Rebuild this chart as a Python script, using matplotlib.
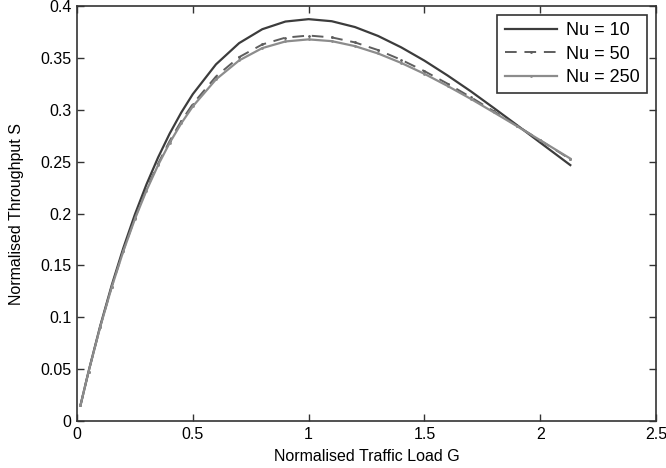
import matplotlib
matplotlib.use('Agg')
from matplotlib import pyplot as plt

plt.rcParams['font.family'] = ['Liberation Sans', 'DejaVu Sans']

# values
G = [0.015, 0.05, 0.1, 0.15, 0.2, 0.25, 0.3, 0.35, 0.4, 0.45, 0.5,
     0.6, 0.7, 0.8, 0.9, 1.0, 1.1, 1.2, 1.3, 1.4, 1.5, 1.6, 1.7,
     1.8, 1.9, 2.0, 2.13]
S_nu10 = [0.015, 0.0478, 0.0914, 0.1309, 0.1667, 0.1991, 0.2281, 0.2540,
          0.2770, 0.2973, 0.3151, 0.3438, 0.3643, 0.3777, 0.3851, 0.3874,
          0.3854, 0.3798, 0.3712, 0.3602, 0.3474, 0.3331, 0.3179, 0.3017,
          0.2852, 0.2684, 0.2467]
S_nu50 = [0.015, 0.0476, 0.0907, 0.1295, 0.1643, 0.1956, 0.2234, 0.2481,
          0.2699, 0.2890, 0.3056, 0.3321, 0.3508, 0.3630, 0.3696, 0.3716,
          0.3698, 0.3650, 0.3576, 0.3482, 0.3373, 0.3252, 0.3122, 0.2986,
          0.2847, 0.2706, 0.2524]
S_nu250 = [0.015, 0.0476, 0.0905, 0.1291, 0.1637, 0.1947, 0.2222, 0.2466,
           0.2681, 0.2869, 0.3033, 0.3293, 0.3476, 0.3595, 0.3659, 0.3679,
           0.3662, 0.3614, 0.3543, 0.3452, 0.3347, 0.3230, 0.3106, 0.2975,
           0.2842, 0.2707, 0.2530]

fig = plt.figure(figsize=(6.66, 4.68), dpi=100)
ax = fig.add_axes([0.1156, 0.1004, 0.8694, 0.8866])

ax.plot(G, S_nu10, color='#3c3c3c', lw=1.6, label='Nu = 10')
ax.plot(G, S_nu50, color='#5e5e5e', lw=1.4, ls=(0, (6, 4)), marker='.',
        markersize=2, label='Nu = 50')
ax.plot(G, S_nu250, color='#8c8c8c', lw=1.6, marker='.', markersize=2,
        label='Nu = 250')

ax.set_xlim(0, 2.5)
ax.set_ylim(0, 0.4)
ax.set_xticks([0, 0.5, 1, 1.5, 2, 2.5])
ax.set_xticklabels(['0', '0.5', '1', '1.5', '2', '2.5'])
ax.set_yticks([0, 0.05, 0.1, 0.15, 0.2, 0.25, 0.3, 0.35, 0.4])
ax.set_yticklabels(['0', '0.05', '0.1', '0.15', '0.2', '0.25', '0.3', '0.35', '0.4'])
ax.tick_params(direction='in', top=True, right=True, labelsize=11.5,
               length=5, width=1, color='#333333', pad=4)
for sp in ax.spines.values():
    sp.set_color('#333333')
    sp.set_linewidth(1.2)

ax.set_xlabel('Normalised Traffic Load G', size=11.5, labelpad=5)
ax.set_ylabel('Normalised Throughput S', size=11.5, labelpad=12)

leg = ax.legend(loc='upper right', fancybox=False, framealpha=1,
                edgecolor='#333333', fontsize=13, borderaxespad=0.5,
                handlelength=2.9, labelspacing=0.35, handletextpad=0.5,
                borderpad=0.4)
leg.get_frame().set_linewidth(1.2)

plt.savefig('out.png', dpi=100)
